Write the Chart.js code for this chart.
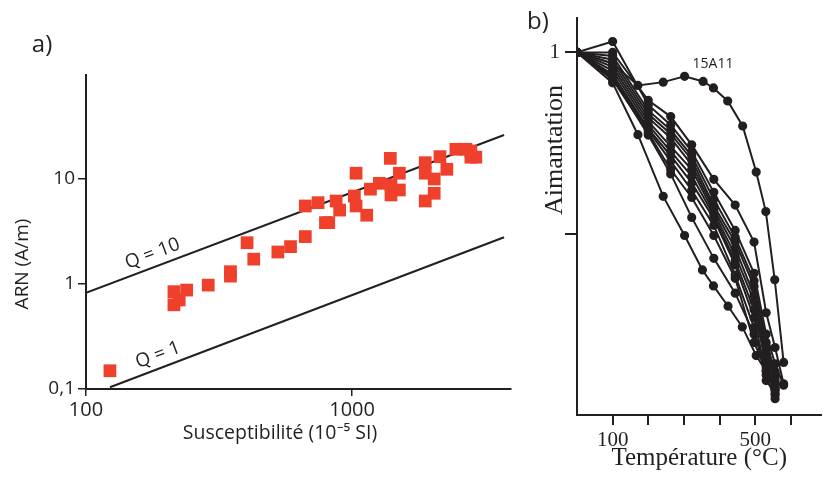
<!DOCTYPE html>
<html>
<head>
<meta charset="utf-8">
<script src="https://cdn.jsdelivr.net/npm/chart.js@4.4.1/dist/chart.umd.min.js"></script>
<style>
  html, body { margin: 0; padding: 0; background: #fff; }
  #wrap { position: relative; width: 827px; height: 477px; overflow: hidden; }
  #chartA { position: absolute; left: 0; top: 0; }
  #chartB { position: absolute; left: 520px; top: 0; }
</style>
</head>
<body>
<div id="wrap">
  <canvas id="chartA" width="520" height="477"></canvas>
  <canvas id="chartB" width="307" height="477"></canvas>
</div>
<script>
// ---- panel a) : NRM vs susceptibility (log-log)
const suscept = [123, 214, 214, 224, 239, 288, 349, 349, 403, 427, 526, 587, 667, 667, 745,
  794, 817, 871, 898, 1020, 1035, 1035, 1135, 1172, 1266, 1392, 1400, 1400, 1505, 1505,
  1883, 1883, 1883, 2035, 2035, 2138, 2270, 2455, 2676, 2795, 2917, 2795];
const nrm = [0.149, 0.84, 0.63, 0.70, 0.87, 0.97, 1.30, 1.18, 2.45, 1.71, 2.0, 2.25, 2.8, 5.47, 5.88,
  3.8, 3.8, 6.1, 5.0, 6.8, 11.2, 5.47, 4.47, 7.9, 8.98, 15.5, 6.96, 8.66, 11.2, 7.76,
  14.1, 11.2, 6.1, 9.87, 7.22, 16.1, 12.2, 18.9, 18.9, 15.9, 15.9, 18.2];
const q10X = [100, 3725];
const q10Y = [0.82, 25.8];
const q1X = [123, 3725];
const q1Y = [0.104, 2.76];
const qLabels = ['Q = 10', 'Q = 1'];
const qLabelAt = [185, 194];   // susceptibility where each label sits
const ticksA_x = [100, 1000];
const ticksA_y = [0.1, 1, 10];

// ---- panel b) : thermal demagnetisation curves
const temps15A11 = [0, 100, 171, 242, 302, 354, 383, 423, 465, 503, 530, 555, 580];
const mag15A11 = [1, 0.97, 0.909, 0.918, 0.934, 0.920, 0.902, 0.866, 0.797, 0.670, 0.561, 0.373, 0.145];
const tempsLow = [0, 100, 171, 242, 302, 352, 383, 424, 464, 503, 531, 556];
const magLow = [1, 0.916, 0.773, 0.603, 0.495, 0.40, 0.356, 0.30, 0.243, 0.164, 0.12, 0.07];
const tempsBundle = [0, 100, 200, 263, 322, 384, 444, 497, 531, 556, 580];
const magBundle = [
  [1, 1.00, 0.868, 0.823, 0.745, 0.650, 0.579, 0.477, 0.282, 0.186, 0.086],
  [1, 1.03, 0.855, 0.800, 0.727, 0.614, 0.509, 0.391, 0.223, 0.141, 0.082],
  [1, 0.99, 0.840, 0.786, 0.715, 0.595, 0.490, 0.370, 0.200, 0.120, null],
  [1, 0.98, 0.830, 0.775, 0.704, 0.577, 0.477, 0.355, 0.186, 0.104, null],
  [1, 0.97, 0.820, 0.764, 0.690, 0.568, 0.460, 0.330, 0.170, 0.095, null],
  [1, 0.96, 0.810, 0.741, 0.677, 0.559, 0.441, 0.314, 0.150, 0.075, null],
  [1, 0.95, 0.800, 0.727, 0.659, 0.550, 0.425, 0.290, 0.140, 0.055, null],
  [1, 0.94, 0.790, 0.715, 0.640, 0.541, 0.414, 0.268, 0.110, 0.045, null],
  [1, 0.935, 0.785, 0.700, 0.620, 0.523, 0.386, 0.241, 0.095, 0.060, null],
  [1, 0.925, 0.778, 0.677, 0.600, 0.495, 0.377, 0.200, 0.123, 0.068, null],
  [1, 0.93, 0.772, 0.665, 0.545, 0.432, 0.336, 0.223, 0.130, 0.086, null]
];
const ticksB_x = [100, 200, 300, 400, 500, 600];
const ticksB_y = [0.5, 1];

const INK = '#231f20';
const RED = '#ef402c';
const SANS = "'Open Sans', sans-serif";
const SERIF = "'Liberation Serif', serif";

function pts(xs, ys) {
  const out = [];
  xs.forEach((x, i) => { if (ys[i] != null) out.push({ x: x, y: ys[i] }); });
  return out;
}

// free text (panel letters, rotated titles, Q labels)
const textPlugin = {
  id: 'freeText',
  afterDraw(chart, args, opts) {
    const ctx = chart.ctx;
    const items = (opts.items || []).slice();
    if (opts.qLines) {
      const xs = chart.scales.x, ys = chart.scales.y;
      opts.qLines.forEach(q => {
        const x0 = xs.getPixelForValue(q.x[0]), y0 = ys.getPixelForValue(q.y[0]);
        const x1 = xs.getPixelForValue(q.x[1]), y1 = ys.getPixelForValue(q.y[1]);
        const ang = Math.atan2(y1 - y0, x1 - x0);
        const ax = xs.getPixelForValue(q.at);
        const ay = y0 + (ax - x0) * (y1 - y0) / (x1 - x0);
        const off = 13;
        items.push({ text: q.text, font: q.font, rot: ang,
          x: ax + Math.sin(ang) * off, y: ay - Math.cos(ang) * off });
      });
    }
    items.forEach(it => {
      ctx.save();
      ctx.font = it.font;
      ctx.fillStyle = INK;
      ctx.textAlign = 'center';
      ctx.textBaseline = 'middle';
      ctx.translate(it.x, it.y);
      if (it.rot) ctx.rotate(it.rot);
      ctx.fillText(it.text, 0, 0);
      ctx.restore();
    });
  }
};

const lineStyle = { borderColor: INK, borderWidth: 2, pointRadius: 0, showLine: true, fill: false, tension: 0 };

new Chart(document.getElementById('chartA'), {
  type: 'scatter',
  data: {
    datasets: [
      Object.assign({ data: pts(q10X, q10Y), order: 2 }, lineStyle),
      Object.assign({ data: pts(q1X, q1Y), order: 2 }, lineStyle),
      {
        data: pts(suscept, nrm),
        pointStyle: 'rect',
        pointRadius: 9,
        pointHoverRadius: 9,
        backgroundColor: RED,
        borderColor: RED,
        borderWidth: 0,
        order: 1
      }
    ]
  },
  options: {
    responsive: false,
    animation: false,
    layout: { padding: { top: 75, right: 8, bottom: 34, left: 0 } },
    plugins: {
      legend: { display: false },
      tooltip: { enabled: false },
      freeText: {
        items: [
          { text: 'a)', x: 42, y: 45, font: '24px ' + SANS },
          { text: 'ARN (A/m)', x: 23, y: 264, rot: -Math.PI / 2, font: '19px ' + SANS },
          { text: 'Susceptibilité (10⁻⁵ SI)', x: 280, y: 433, font: '19.5px ' + SANS }
        ],
        qLines: [
          { x: q10X, y: q10Y, at: qLabelAt[0], text: qLabels[0], font: '19px ' + SANS },
          { x: q1X, y: q1Y, at: qLabelAt[1], text: qLabels[1], font: '19px ' + SANS }
        ]
      }
    },
    scales: {
      x: {
        type: 'logarithmic',
        min: 100, max: 3955,
        afterFit(s) { s.height = 54; },
        afterBuildTicks(s) { s.ticks = ticksA_x.map(v => ({ value: v })); },
        border: { display: true, color: INK, width: 2 },
        grid: { drawOnChartArea: false, drawTicks: true, tickLength: 7, color: INK, lineWidth: 1.5 },
        ticks: { autoSkip: false, maxRotation: 0, padding: 2, color: INK,
          font: { family: SANS, size: 20 }, callback: v => String(v) }
      },
      y: {
        type: 'logarithmic',
        min: 0.1, max: 95.9,
        afterFit(s) { s.width = 86; },
        afterBuildTicks(s) { s.ticks = ticksA_y.map(v => ({ value: v })); },
        border: { display: true, color: INK, width: 2 },
        grid: { drawOnChartArea: false, drawTicks: true, tickLength: 8, color: INK, lineWidth: 1.5 },
        ticks: { autoSkip: false, padding: 3, color: INK,
          font: { family: SANS, size: 19 }, callback: v => String(v).replace('.', ',') }
      }
    }
  },
  plugins: [textPlugin]
});

// panel b
const dsB = [];
const curveStyle = { borderColor: INK, backgroundColor: INK, borderWidth: 2, pointRadius: 3.6,
  pointHoverRadius: 3.6, showLine: true, fill: false, tension: 0 };
magBundle.forEach(m => dsB.push(Object.assign({ data: pts(tempsBundle, m) }, curveStyle)));
dsB.push(Object.assign({ data: pts(tempsLow, magLow) }, curveStyle));
dsB.push(Object.assign({ data: pts(temps15A11, mag15A11) }, curveStyle));

new Chart(document.getElementById('chartB'), {
  type: 'scatter',
  data: { datasets: dsB },
  options: {
    responsive: false,
    animation: false,
    layout: { padding: { top: 13, right: 0, bottom: 0, left: 0 } },
    plugins: {
      legend: { display: false },
      tooltip: { enabled: false },
      freeText: {
        items: [
          { text: 'b)', x: 18, y: 22, font: '24px ' + SANS },
          { text: 'Aimantation', x: 35, y: 150, rot: -Math.PI / 2, font: '26px ' + SERIF },
          { text: '15A11', x: 193, y: 64, font: '14px ' + SANS }
        ]
      }
    },
    scales: {
      x: {
        type: 'linear',
        min: 0, max: 686,
        afterFit(s) { s.height = 62; },
        afterBuildTicks(s) { s.ticks = ticksB_x.map(v => ({ value: v })); },
        border: { display: true, color: INK, width: 2 },
        grid: { drawOnChartArea: false, drawTicks: true, tickLength: 10, color: INK, lineWidth: 2 },
        ticks: { autoSkip: false, maxRotation: 0, padding: 3, color: INK,
          font: { family: SERIF, size: 21 }, callback: v => (v === 100 || v === 500) ? String(v) : '' },
        title: { display: true, text: 'Température (°C)', color: INK,
          font: { family: SERIF, size: 25, lineHeight: 1 }, padding: { top: 0, bottom: 6 } }
      },
      y: {
        type: 'linear',
        min: 0, max: 1.096,
        afterFit(s) { s.width = 57; },
        afterBuildTicks(s) { s.ticks = ticksB_y.map(v => ({ value: v })); },
        border: { display: true, color: INK, width: 2 },
        grid: { drawOnChartArea: false, drawTicks: true, tickLength: 12, color: INK, lineWidth: 2 },
        ticks: { autoSkip: false, padding: 5, color: INK,
          font: { family: SERIF, size: 21 }, callback: v => v === 1 ? '1' : '' }
      }
    }
  },
  plugins: [textPlugin]
});
</script>
</body>
</html>
